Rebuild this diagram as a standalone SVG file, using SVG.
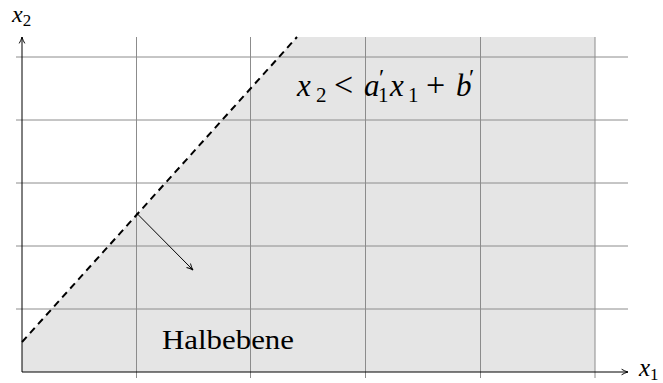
<svg xmlns="http://www.w3.org/2000/svg" width="663" height="383" viewBox="0 0 663 383">
<style>
.grid{stroke:#8c8c8c;stroke-width:1;fill:none}
.axis{stroke:#000;stroke-width:1;fill:none}
.math{font-family:"Liberation Serif","Times New Roman",serif;font-style:italic;fill:#000}
.rm{font-family:"Liberation Serif","Times New Roman",serif;font-style:normal;fill:#000}
</style>
<defs>
<marker id="arr" viewBox="0 0 10 10" refX="9" refY="5" markerWidth="8" markerHeight="8" markerUnits="userSpaceOnUse" orient="auto">
<path d="M1,1.5 Q5,4 9,5 Q5,6 1,8.5" fill="none" stroke="#000" stroke-width="1.2"/>
</marker>
</defs>
<g id="halfplane">
<polygon points="22,342 297,37 595,37 595,372 22,372" fill="#e5e5e5"/>
</g>
<g id="grid">
<line class="grid" x1="16" y1="57" x2="628" y2="57"/>
<line class="grid" x1="16" y1="120" x2="628" y2="120"/>
<line class="grid" x1="16" y1="183" x2="628" y2="183"/>
<line class="grid" x1="16" y1="246" x2="628" y2="246"/>
<line class="grid" x1="16" y1="309" x2="628" y2="309"/>
<line class="grid" x1="136.5" y1="37" x2="136.5" y2="378"/>
<line class="grid" x1="250.5" y1="37" x2="250.5" y2="378"/>
<line class="grid" x1="365.5" y1="37" x2="365.5" y2="378"/>
<line class="grid" x1="480.5" y1="37" x2="480.5" y2="378"/>
<line class="grid" x1="595" y1="37" x2="595" y2="378" stroke-width="1.5"/>
</g>
<g id="connectors">
<line class="axis" x1="22" y1="372" x2="628" y2="372" marker-end="url(#arr)"/>
<line class="axis" x1="22" y1="372" x2="22" y2="37" marker-end="url(#arr)"/>
<line x1="22" y1="342" x2="297" y2="37" stroke="#000" stroke-width="2" stroke-dasharray="7,5"/>
<line class="axis" x1="136.5" y1="213" x2="193" y2="270" marker-end="url(#arr)"/>
</g>
<g id="labels">
<text class="math" x="639" y="376" font-size="25">x<tspan class="rm" font-size="17" dy="4">1</tspan></text>
<text class="math" x="12" y="22" font-size="24">x<tspan class="rm" font-size="17" dy="4">2</tspan></text>
<text class="math" font-size="31" y="96"><tspan x="297">x</tspan><tspan class="rm" x="316" dy="6" font-size="21">2</tspan><tspan class="rm" x="334" dy="-6" font-size="34">&lt;</tspan><tspan x="364">a</tspan><tspan class="rm" x="379" dy="-11" font-size="24">′</tspan><tspan class="rm" x="378" dy="17" font-size="21">1</tspan><tspan x="390" dy="-6">x</tspan><tspan class="rm" x="408" dy="6" font-size="21">1</tspan><tspan class="rm" x="426" dy="-6" font-size="34">+</tspan><tspan x="456">b</tspan><tspan class="rm" x="469" dy="-11" font-size="24">′</tspan></text>
<text class="rm" x="162" y="349" font-size="27" textLength="132" lengthAdjust="spacingAndGlyphs">Halbebene</text>
</g>
</svg>
